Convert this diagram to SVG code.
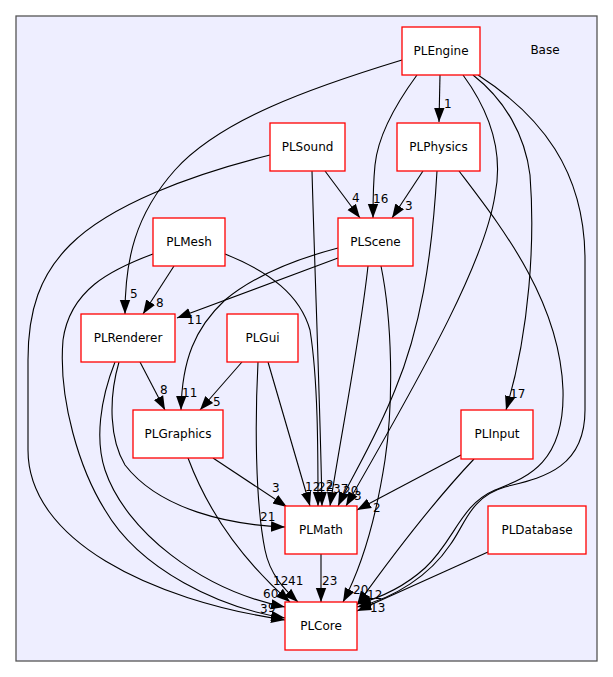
<svg xmlns="http://www.w3.org/2000/svg" width="613" height="677" viewBox="0 0 613 677">
<defs>
<style>
.cl{fill:#eeeeff;stroke:#555555;stroke-width:1.3}
.nd rect{fill:#ffffff;stroke:#ff0000;stroke-width:1.3}
text{font-family:"DejaVu Sans","Liberation Sans",sans-serif;font-size:12px;fill:#000}
.nd text{text-anchor:middle}
.e path{fill:none;stroke:#000;stroke-width:1.1;marker-end:url(#ah)}
</style>
<marker id="ah" markerUnits="userSpaceOnUse" markerWidth="16" markerHeight="12" refX="14" refY="6" orient="auto"><path d="M0,0.8 L14,6 L0,11.2 z" fill="#000"/></marker>
</defs>
<rect width="613" height="677" fill="#ffffff"/>
<rect class="cl" x="16" y="16" width="581" height="645"/>
<text x="545" y="54" text-anchor="middle">Base</text>

<g id="connectors" class="e">
<!-- PLEngine -->
<path d="M402,60 C310,88 220,120 175,170 C135,215 125,260 125,314"/>
<path d="M417,75 C395,105 378,135 375,165 C373,185 373,200 373,218"/>
<path d="M440,75 L439,122"/>
<path d="M463,75 C485,105 505,145 495,195 C485,260 430,360 346,506"/>
<path d="M473,75 C505,100 525,135 530,175 C535,240 530,330 506,410"/>
<path d="M478,75 C540,115 585,170 585,260 L585,410 C585,470 540,478 505,487 C470,497 465,525 450,545 C430,575 395,598 357,607"/>
<!-- PLSound -->
<path d="M270,155 C190,175 110,205 70,245 C40,275 28,310 28,360 L28,450 C28,540 150,600 285,620"/>
<path d="M325,171 L360,218"/>
<path d="M312,171 C315,280 320,400 322,506"/>
<!-- PLPhysics -->
<path d="M423,171 L392,218"/>
<path d="M437,171 C432,260 420,330 395,390 C375,440 350,480 338,506"/>
<path d="M459,171 C500,225 560,300 563,390 C565,465 525,478 495,490 C460,505 455,540 425,568 C405,586 380,598 357,604"/>
<!-- PLMesh -->
<path d="M174,266 L143,314"/>
<path d="M153,254 C110,270 70,290 63,340 C58,400 80,470 105,510 C140,570 220,608 285,618"/>
<path d="M225,254 C270,272 300,295 310,330 C318,380 318,450 318,506"/>
<!-- PLScene -->
<path d="M338,258 L177,318"/>
<path d="M338,248 C300,258 255,275 225,300 C195,328 182,360 181,410"/>
<path d="M368,266 C360,340 340,440 330,506"/>
<path d="M381,266 C392,320 394,400 385,460 C375,525 360,570 343,602"/>
<!-- PLRenderer -->
<path d="M140,362 L165,410"/>
<path d="M119,362 C108,400 110,440 125,465 C160,510 230,525 285,527"/>
<path d="M115,362 C100,400 95,440 105,470 C125,530 200,590 285,607"/>
<!-- PLGui -->
<path d="M242,362 L200,410"/>
<path d="M268,362 L310,506"/>
<path d="M258,362 C255,420 255,500 265,550 C270,575 285,590 298,602"/>
<!-- PLGraphics -->
<path d="M213,458 L287,507"/>
<path d="M188,458 C200,490 225,545 290,602"/>
<!-- PLInput -->
<path d="M461,455 L357,510"/>
<path d="M474,459 C440,495 400,545 357,605"/>
<!-- PLMath -->
<path d="M321,554 L321,602"/>
<!-- PLDatabase -->
<path d="M488,552 L357,611"/>
</g>

<g id="edge-labels">
<text x="130" y="298">5</text>
<text x="373" y="203">16</text>
<text x="444" y="108">1</text>
<text x="510" y="398">17</text>
<text x="352" y="202">4</text>
<text x="405" y="210">3</text>
<text x="156" y="307">8</text>
<text x="187" y="324">11</text>
<text x="182" y="397">11</text>
<text x="160" y="394">8</text>
<text x="213" y="406">5</text>
<text x="272" y="492">3</text>
<text x="260" y="521">21</text>
<text x="305" y="491">12</text>
<text x="318" y="491">22</text>
<text x="326" y="489">2</text>
<text x="333" y="493">37</text>
<text x="343" y="495">20</text>
<text x="354" y="500">3</text>
<text x="373" y="512">2</text>
<text x="322" y="585">23</text>
<text x="273" y="585">12</text>
<text x="288" y="585">41</text>
<text x="263" y="598">60</text>
<text x="260" y="613">3</text>
<text x="268" y="612">9</text>
<text x="353" y="594">20</text>
<text x="367" y="599">12</text>
<text x="370" y="612">13</text>
</g>

<g id="PLEngine" class="nd"><rect x="402" y="27" width="78" height="48"/><text x="441" y="55">PLEngine</text></g>
<g id="PLSound" class="nd"><rect x="270" y="123" width="75" height="48"/><text x="307.5" y="151">PLSound</text></g>
<g id="PLPhysics" class="nd"><rect x="397" y="123" width="83" height="48"/><text x="438.5" y="151">PLPhysics</text></g>
<g id="PLMesh" class="nd"><rect x="153" y="218" width="72" height="48"/><text x="189" y="246">PLMesh</text></g>
<g id="PLScene" class="nd"><rect x="338" y="218" width="75" height="48"/><text x="375.5" y="246">PLScene</text></g>
<g id="PLRenderer" class="nd"><rect x="81" y="314" width="94" height="48"/><text x="128" y="342">PLRenderer</text></g>
<g id="PLGui" class="nd"><rect x="227" y="314" width="71" height="48"/><text x="262.5" y="342">PLGui</text></g>
<g id="PLGraphics" class="nd"><rect x="133" y="410" width="90" height="48"/><text x="178" y="438">PLGraphics</text></g>
<g id="PLInput" class="nd"><rect x="461" y="410" width="72" height="49"/><text x="497" y="438">PLInput</text></g>
<g id="PLMath" class="nd"><rect x="285" y="506" width="72" height="48"/><text x="321" y="534">PLMath</text></g>
<g id="PLDatabase" class="nd"><rect x="488" y="506" width="98" height="48"/><text x="537" y="534">PLDatabase</text></g>
<g id="PLCore" class="nd"><rect x="285" y="602" width="72" height="48"/><text x="321" y="630">PLCore</text></g>
</svg>
